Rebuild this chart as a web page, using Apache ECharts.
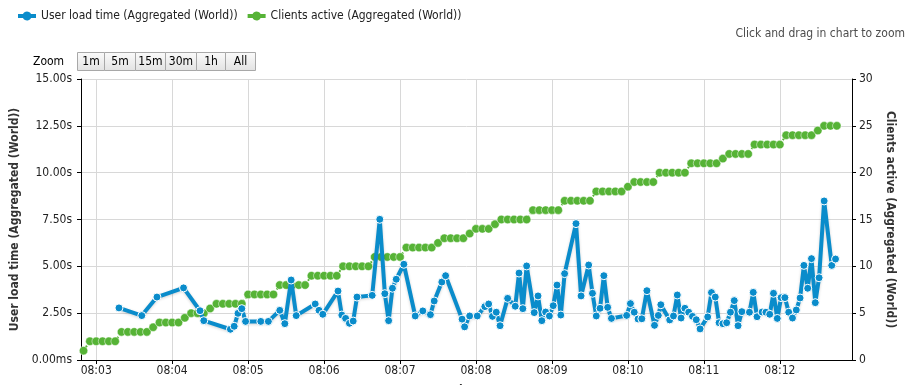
<!DOCTYPE html>
<html>
<head>
<meta charset="utf-8">
<script src="https://cdn.jsdelivr.net/npm/echarts@6/dist/echarts.min.js"></script>
<style>
html,body{margin:0;padding:0;background:#fff;}
#chart{width:914px;height:385px;}
</style>
</head>
<body>
<div id="chart"></div>
<script>
const FONT = '"DejaVu Sans Condensed", Tahoma, "DejaVu Sans", sans-serif';

const blueName = 'User load time (Aggregated (World))';
const greenName = 'Clients active (Aggregated (World))';

const blueTimes = ['08:03:18','08:03:36','08:03:48','08:04:09','08:04:22','08:04:25','08:04:46','08:04:49','08:04:52','08:04:55',
'08:04:58','08:05:10','08:05:16','08:05:25','08:05:29','08:05:34','08:05:38','08:05:53','08:05:56','08:05:59',
'08:06:11','08:06:14','08:06:17','08:06:20','08:06:23','08:06:26','08:06:38','08:06:44','08:06:48','08:06:51',
'08:06:54','08:06:57','08:07:03','08:07:12','08:07:18','08:07:24','08:07:27','08:07:33','08:07:36','08:07:49',
'08:07:51','08:07:55','08:08:01','08:08:07','08:08:10','08:08:13','08:08:16','08:08:19','08:08:25','08:08:31',
'08:08:34','08:08:37','08:08:40','08:08:46','08:08:49','08:08:52','08:08:55','08:08:58','08:09:01','08:09:04',
'08:09:07','08:09:10','08:09:19','08:09:23','08:09:29','08:09:32','08:09:35','08:09:38','08:09:41','08:09:44',
'08:09:47','08:09:59','08:10:02','08:10:05','08:10:08','08:10:11','08:10:15','08:10:21','08:10:24','08:10:26',
'08:10:33','08:10:36','08:10:39','08:10:42','08:10:45','08:10:48','08:10:51','08:10:54','08:10:57','08:11:03',
'08:11:06','08:11:09','08:11:12','08:11:15','08:11:18','08:11:21','08:11:24','08:11:27','08:11:30','08:11:36',
'08:11:39','08:11:42','08:11:46','08:11:49','08:11:52','08:11:55','08:11:58','08:12:01','08:12:04','08:12:07',
'08:12:10','08:12:13','08:12:16','08:12:19','08:12:22','08:12:25','08:12:28','08:12:31','08:12:35','08:12:41',
'08:12:44'];
const blueValues = [2.78,2.37,3.36,3.85,2.63,2.10,1.64,1.80,2.49,2.74,
2.06,2.06,2.06,2.65,1.94,4.27,2.37,2.99,2.65,2.44,
3.68,2.40,2.22,1.96,2.08,3.36,3.45,7.51,3.54,2.10,
3.83,4.31,5.11,2.35,2.62,2.42,3.15,4.16,4.50,2.18,
1.77,2.35,2.35,2.85,2.99,2.33,2.55,1.83,3.29,2.87,
4.64,2.74,5.02,2.53,3.42,2.10,2.56,2.35,2.90,4.00,
2.40,4.61,7.28,3.42,5.07,3.56,2.35,2.76,4.50,2.81,
2.22,2.38,3.01,2.55,2.19,2.20,3.70,1.85,2.38,2.95,
2.14,2.35,3.47,2.24,2.76,2.55,2.33,2.15,1.66,2.30,
3.60,3.36,1.99,1.94,1.99,2.55,3.17,1.83,2.58,2.55,
3.61,2.31,2.56,2.55,2.44,3.56,2.22,3.33,3.33,2.55,
2.24,2.67,3.31,5.05,3.83,5.41,3.06,4.39,8.49,5.05,
5.39];

const greenTimes = ['08:02:50','08:02:55',
'08:03:00','08:03:05','08:03:10','08:03:15','08:03:20','08:03:25','08:03:30','08:03:35','08:03:40','08:03:45','08:03:50','08:03:55',
'08:04:00','08:04:05','08:04:10','08:04:15','08:04:20','08:04:25','08:04:30','08:04:35','08:04:40','08:04:45','08:04:50','08:04:55',
'08:05:00','08:05:05','08:05:10','08:05:15','08:05:20','08:05:25','08:05:30','08:05:35','08:05:40','08:05:45','08:05:50','08:05:55',
'08:06:00','08:06:05','08:06:10','08:06:15','08:06:20','08:06:25','08:06:30','08:06:35','08:06:40','08:06:45','08:06:50','08:06:55',
'08:07:00','08:07:05','08:07:10','08:07:15','08:07:20','08:07:25','08:07:30','08:07:35','08:07:40','08:07:45','08:07:50','08:07:55',
'08:08:00','08:08:05','08:08:10','08:08:15','08:08:20','08:08:25','08:08:30','08:08:35','08:08:40','08:08:45','08:08:50','08:08:55',
'08:09:00','08:09:05','08:09:10','08:09:15','08:09:20','08:09:25','08:09:30','08:09:35','08:09:40','08:09:45','08:09:50','08:09:55',
'08:10:00','08:10:05','08:10:10','08:10:15','08:10:20','08:10:25','08:10:30','08:10:35','08:10:40','08:10:45','08:10:50','08:10:55',
'08:11:00','08:11:05','08:11:10','08:11:15','08:11:20','08:11:25','08:11:30','08:11:35','08:11:40','08:11:45','08:11:50','08:11:55',
'08:12:00','08:12:05','08:12:10','08:12:15','08:12:20','08:12:25','08:12:30','08:12:35','08:12:40','08:12:45'];
const greenValues = [1,
2,2,2,2,2,
3,3,3,3,3,
3.5,
4,4,4,4,
4.5,
5,5,5,
5.5,
6,6,6,6,6,
7,7,7,7,7,
8,8,8,8,8,
9,9,9,9,9,
10,10,10,10,10,
11,11,11,11,11,
12,12,12,12,12,
12.5,
13,13,13,13,
13.5,
14,14,14,
14.5,
15,15,15,15,15,
16,16,16,16,16,
17,17,17,17,17,
18,18,18,18,18,
18.5,
19,19,19,19,
20,20,20,20,20,
21,21,21,21,21,
21.5,
22,22,22,22,
23,23,23,23,23,
24,24,24,24,24,
24.5,
25,25,25];

const xMinTime = '08:02:48';
const xMaxTime = '08:12:57';
const leftTicks = [0, 2.5, 5, 7.5, 10, 12.5, 15];
const rightTicks = [0, 5, 10, 15, 20, 25, 30];
const zoomButtons = ['1m', '5m', '15m', '30m', '1h', 'All'];

function t(s) {
  const p = s.split(':').map(Number);
  return new Date(2020, 0, 1, p[0], p[1], p[2]).getTime();
}
function pad(n) { return (n < 10 ? '0' : '') + n; }

const blueData = blueTimes.map((s, i) => [t(s), blueValues[i]]);
const greenData = greenTimes.map((s, i) => [t(s), greenValues[i]]);

// legend icon: short thick line with a circle in the middle
const LEGEND_ICON = 'path://M0,2.5H4.97A4.5,4.5 0 0 1 13.03,2.5H18V6.5H13.03A4.5,4.5 0 0 1 4.97,6.5H0Z';

// zoom buttons layout
const btnX = [77, 104, 135, 165, 196, 225];
const btnW = [27, 31, 30, 31, 29, 30];
const graphics = [
  { type: 'text', right: 9, top: 28, style: { text: 'Click and drag in chart to zoom', fill: '#4d4d4d', font: '12px ' + FONT } },
  { type: 'text', left: 33, top: 56, style: { text: 'Zoom', fill: '#000', font: '12px ' + FONT } }
];
zoomButtons.forEach((b, i) => {
  graphics.push({
    type: 'rect', shape: { x: btnX[i] + 0.5, y: 52.5, width: btnW[i], height: 18 },
    style: { fill: new echarts.graphic.LinearGradient(0, 0, 0, 1, [{ offset: 0, color: '#fbfbfb' }, { offset: 1, color: '#e2e2e2' }]), stroke: '#a8a8a8', lineWidth: 1 }
  });
  graphics.push({
    type: 'text', x: btnX[i] + 0.5 + btnW[i] / 2, y: 62,
    style: { text: b, fill: '#000', font: '12px ' + FONT, align: 'center', verticalAlign: 'middle' }
  });
});

const chart = echarts.init(document.getElementById('chart'));
chart.setOption({
  animation: false,
  textStyle: { fontFamily: FONT },
  legend: {
    left: 13, top: 5,
    itemWidth: 18, itemHeight: 9, itemGap: 10,
    data: [{ name: blueName, icon: LEGEND_ICON }, { name: greenName, icon: LEGEND_ICON }],
    itemStyle: { borderWidth: 0 },
    lineStyle: { width: 0 },
    textStyle: { fontSize: 12, color: '#222', fontFamily: FONT }
  },
  grid: { left: 81, right: 62, top: 79, bottom: 25, containLabel: false, outerBoundsMode: 'none' },
  xAxis: {
    type: 'time',
    min: t(xMinTime), max: t(xMaxTime),
    minInterval: 60000, maxInterval: 60000,
    name: 'Time', nameLocation: 'middle', nameGap: 25,
    nameTextStyle: { fontWeight: 'bold', fontSize: 12, color: '#333' },
    axisLine: { lineStyle: { color: '#000', width: 1 } },
    axisTick: { show: true, length: 4, lineStyle: { color: '#000' } },
    axisLabel: {
      color: '#222', fontSize: 12, margin: 5,
      formatter: function (v) { const d = new Date(v); return pad(d.getHours()) + ':' + pad(d.getMinutes()); }
    },
    splitLine: { show: true, lineStyle: { color: '#d8d8d8', width: 1 } }
  },
  yAxis: [
    {
      type: 'value', min: 0, max: 15, interval: 2.5,
      name: blueName, nameLocation: 'middle', nameRotate: 90, nameGap: 55,
      nameTextStyle: { fontWeight: 'bold', fontSize: 12, color: '#333' },
      axisLine: { show: true, lineStyle: { color: '#000' } },
      axisTick: { show: true, length: 4, lineStyle: { color: '#000' } },
      axisLabel: {
        color: '#222', fontSize: 12, margin: 9,
        formatter: function (v) { return v === leftTicks[0] ? '0.00ms' : v.toFixed(2) + 's'; }
      },
      splitLine: { show: true, lineStyle: { color: '#d8d8d8', width: 1 } }
    },
    {
      type: 'value', min: 0, max: 30, interval: 5, position: 'right',
      name: greenName, nameLocation: 'middle', nameRotate: -90, nameGap: 31,
      nameTextStyle: { fontWeight: 'bold', fontSize: 12, color: '#333' },
      axisLine: { show: true, lineStyle: { color: '#000' } },
      axisTick: { show: true, length: 4, lineStyle: { color: '#000' } },
      axisLabel: { color: '#222', fontSize: 12, margin: 7 },
      splitLine: { show: false }
    }
  ],
  graphic: graphics,
  series: [
    {
      name: blueName, type: 'line', yAxisIndex: 0, z: 3,
      data: blueData,
      symbol: 'circle', symbolSize: 8, showSymbol: true, showAllSymbol: true,
      color: '#0a8ccb',
      itemStyle: { color: '#0a8ccb', borderColor: '#ffffff', borderWidth: 1 },
      lineStyle: { width: 4, color: '#0a8ccb', shadowColor: 'rgba(0,0,0,0.18)', shadowBlur: 3, shadowOffsetY: 1 }
    },
    {
      name: greenName, type: 'line', yAxisIndex: 1, z: 2,
      data: greenData,
      symbol: 'circle', symbolSize: 8.5, showSymbol: true, showAllSymbol: true,
      color: '#56b336',
      itemStyle: { color: '#56b336', borderColor: '#ffffff', borderWidth: 0.5 },
      lineStyle: { width: 2, color: '#56b336', type: 'dotted' }
    }
  ]
});
</script>
</body>
</html>
